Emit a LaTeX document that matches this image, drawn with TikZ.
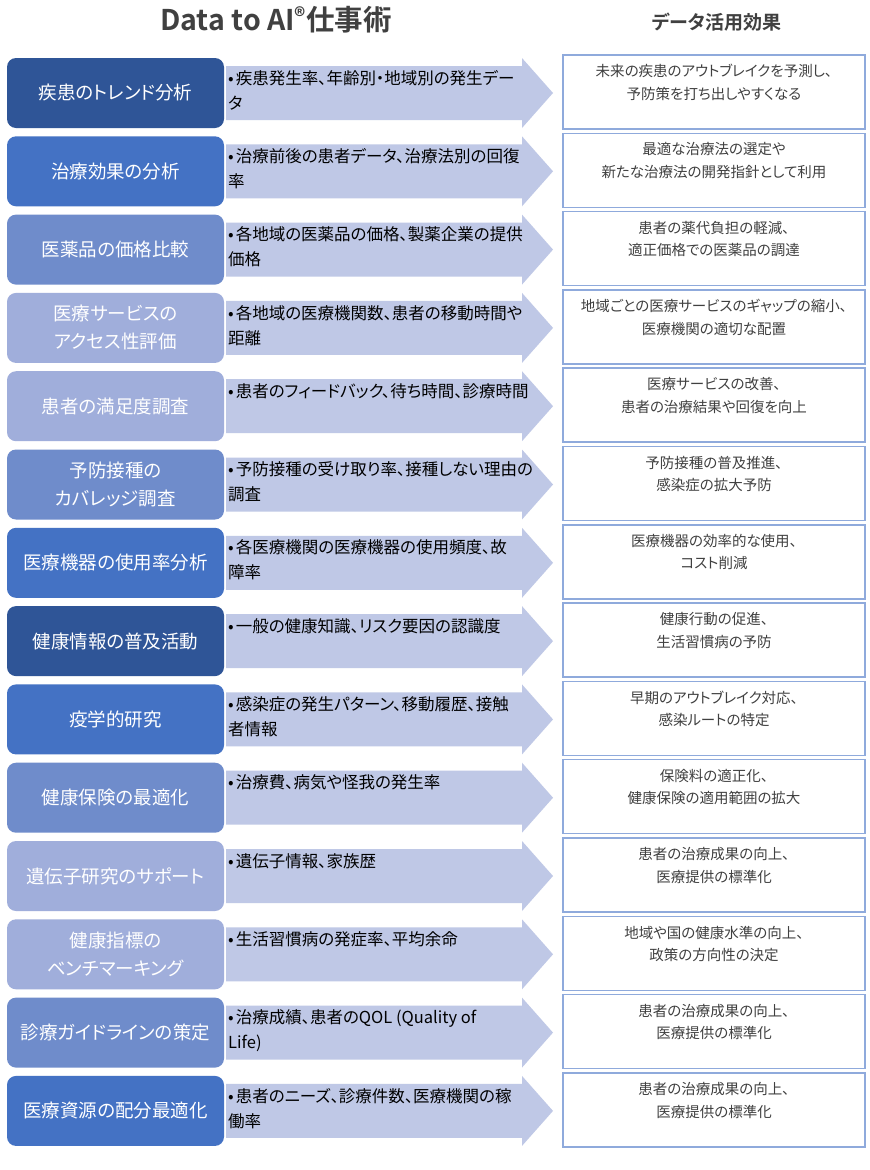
\documentclass[tikz,border=0pt]{standalone}
\usepackage{fontspec}
\setmainfont{Noto Sans CJK JP}[BoldFont={Noto Sans CJK JP Bold},RawFeature=+palt]
\definecolor{cDark}{HTML}{2F5597}
\definecolor{cMid}{HTML}{4472C4}
\definecolor{cLight}{HTML}{6F8CCB}
\definecolor{cPale}{HTML}{A0AEDB}
\definecolor{cArrow}{HTML}{BFC8E6}
\definecolor{cBorder}{HTML}{8FAADC}
\definecolor{cText}{HTML}{404040}
\newcommand\mybul{•\hspace{2pt}}
\tikzset{
  lbox/.style={fill=#1, rounded corners=9pt, minimum width=217pt, minimum height=70pt, inner sep=0pt, text=white, align=center, font=\fontsize{18.5}{28}\selectfont},
  atext/.style={anchor=north west, inner sep=0pt, align=left, font=\fontsize{16.5}{25}\selectfont, text=black},
  rbox/.style={draw=cBorder, line width=1.5pt, fill=white, minimum width=302pt, minimum height=74pt, inner sep=0pt},
  rtext/.style={anchor=north, inner sep=0pt, align=center, font=\fontsize{14.5}{22.5}\selectfont, text=cText},
  arrowshape/.style={fill=cArrow},
}
\newcommand\myrow[5]{%
  \pgfmathsetmacro\T{58+78.3*(#1-1)}%
  \node[lbox=#2] (l#1) at (115.5,\T+35) {#3};
  \fill[arrowshape] (226,\T+8) -- (522,\T+8) -- (522,\T) -- (553,\T+35) -- (522,\T+70) -- (522,\T+62) -- (226,\T+62) -- cycle;
  \node[atext] (a#1) at (228,\T+12) {\mybul #4};
  \node[rbox] (r#1) at (714,\T+34) {};
  \node[rtext] (t#1) at ([yshift=-10pt]r#1.north) {#5};
}
\begin{document}
\begin{tikzpicture}[x=1pt,y=-1pt]
\useasboundingbox[fill=white] (0,0) rectangle (870,1170);
\node[font=\bfseries\fontsize{28.5}{32}\selectfont, text=cText] (title) at (276,20) {Data to AI\raisebox{0.4ex}{\fontsize{22}{22}\selectfont ®}仕事術};
\node[font=\bfseries\fontsize{19}{22}\selectfont, text=cText] (head) at (717,22) {データ活用効果};
\myrow{1}{cDark}{疾患のトレンド分析}{疾患発生率、年齢別・地域別の発生デー\\タ}{未来の疾患のアウトブレイクを予測し、\\予防策を打ち出しやすくなる}
\myrow{2}{cMid}{治療効果の分析}{治療前後の患者データ、治療法別の回復\\率}{最適な治療法の選定や\\新たな治療法の開発指針として利用}
\myrow{3}{cLight}{医薬品の価格比較}{各地域の医薬品の価格、製薬企業の提供\\価格}{患者の薬代負担の軽減、\\適正価格での医薬品の調達}
\myrow{4}{cPale}{医療サービスの\\アクセス性評価}{各地域の医療機関数、患者の移動時間や\\距離}{地域ごとの医療サービスのギャップの縮小、\\医療機関の適切な配置}
\myrow{5}{cPale}{患者の満足度調査}{患者のフィードバック、待ち時間、診療時間}{医療サービスの改善、\\患者の治療結果や回復を向上}
\myrow{6}{cLight}{予防接種の\\カバレッジ調査}{予防接種の受け取り率、接種しない理由の\\調査}{予防接種の普及推進、\\感染症の拡大予防}
\myrow{7}{cMid}{医療機器の使用率分析}{各医療機関の医療機器の使用頻度、故\\障率}{医療機器の効率的な使用、\\コスト削減}
\myrow{8}{cDark}{健康情報の普及活動}{一般の健康知識、リスク要因の認識度}{健康行動の促進、\\生活習慣病の予防}
\myrow{9}{cMid}{疫学的研究}{感染症の発生パターン、移動履歴、接触\\者情報}{早期のアウトブレイク対応、\\感染ルートの特定}
\myrow{10}{cLight}{健康保険の最適化}{治療費、病気や怪我の発生率}{保険料の適正化、\\健康保険の適用範囲の拡大}
\myrow{11}{cPale}{遺伝子研究のサポート}{遺伝子情報、家族歴}{患者の治療成果の向上、\\医療提供の標準化}
\myrow{12}{cPale}{健康指標の\\ベンチマーキング}{生活習慣病の発症率、平均余命}{地域や国の健康水準の向上、\\政策の方向性の決定}
\myrow{13}{cLight}{診療ガイドラインの策定}{治療成績、患者のQOL (Quality of\\Life)}{患者の治療成果の向上、\\医療提供の標準化}
\myrow{14}{cMid}{医療資源の配分最適化}{患者のニーズ、診療件数、医療機関の稼\\働率}{患者の治療成果の向上、\\医療提供の標準化}
\end{tikzpicture}
\end{document}
